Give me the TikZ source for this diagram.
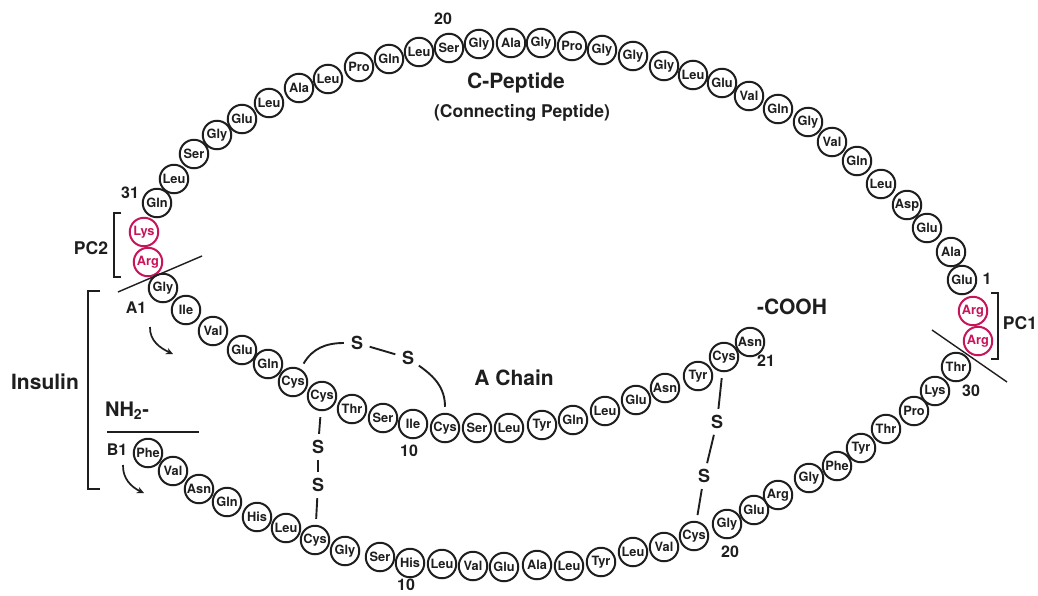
\documentclass[tikz,border=0pt]{standalone}
\usepackage{fontspec}
\setmainfont{TeX Gyre Heros}
\usetikzlibrary{arrows.meta}
\definecolor{pcred}{RGB}{200,20,90}
\definecolor{ink}{RGB}{30,30,30}
\begin{document}
\begin{tikzpicture}[x=1pt,y=1pt,
  res/.style={circle, draw=ink, line width=2pt, minimum size=28.5pt, inner sep=0pt, outer sep=7pt,
    font=\bfseries\fontsize{12.8}{12.8}\selectfont, text=ink},
  pcres/.style={res, draw=pcred, text=pcred},
  sulf/.style={circle, inner sep=0pt, minimum size=26pt, font=\bfseries\fontsize{18}{18}\selectfont, text=ink},
  bond/.style={line width=1.9pt, draw=ink},
  num/.style={font=\bfseries\fontsize{16}{16}\selectfont, text=ink, inner sep=0pt},
  big/.style={font=\bfseries\fontsize{21}{21}\selectfont, text=ink, inner sep=0pt},
  mid/.style={font=\bfseries\fontsize{17.5}{17.5}\selectfont, text=ink, inner sep=0pt},
  brk/.style={line width=1.9pt, draw=ink},
  cut/.style={line width=1.4pt, draw=ink},
  turn/.style={line width=1.7pt, draw=ink, -{Stealth[length=7pt,width=6.5pt]}}
]
\useasboundingbox (0,-595) rectangle (1038,0);

% ---------------- C-peptide ----------------
\node[res] (c1) at (962,-280) {Glu};
\node[res] (c2) at (951,-252) {Ala};
\node[res] (c3) at (927,-228) {Glu};
\node[res] (c4) at (907,-205) {Asp};
\node[res] (c5) at (881,-184) {Leu};
\node[res] (c6) at (857,-161) {Gln};
\node[res] (c7) at (832,-142) {Val};
\node[res] (c8) at (808,-122) {Gly};
\node[res] (c9) at (778,-109) {Gln};
\node[res] (c10) at (749,-96) {Val};
\node[res] (c11) at (722,-83) {Glu};
\node[res] (c12) at (693,-75) {Leu};
\node[res] (c13) at (664,-66) {Gly};
\node[res] (c14) at (633,-56) {Gly};
\node[res] (c15) at (602,-50) {Gly};
\node[res] (c16) at (572,-46) {Pro};
\node[res] (c17) at (541,-43) {Gly};
\node[res] (c18) at (511,-43) {Ala};
\node[res] (c19) at (479,-44) {Gly};
\node[res] (c20) at (449,-48) {Ser};
\node[res] (c21) at (419,-52) {Leu};
\node[res] (c22) at (389,-59) {Gln};
\node[res] (c23) at (359,-67) {Pro};
\node[res] (c24) at (328,-79) {Leu};
\node[res] (c25) at (299,-88) {Ala};
\node[res] (c26) at (269,-103) {Leu};
\node[res] (c27) at (242,-119) {Glu};
\node[res] (c28) at (217,-135) {Gly};
\node[res] (c29) at (194,-154) {Ser};
\node[res] (c30) at (174,-179) {Leu};
\node[res] (c31) at (157,-203) {Gln};

% ---------------- cleavage residues ----------------
\node[pcres] (pk) at (144,-232) {Lys};
\node[pcres] (pr2) at (148,-262) {Arg};
\node[pcres] (pr1a) at (973,-311) {Arg};
\node[pcres] (pr1b) at (978,-341) {Arg};

% ---------------- A chain ----------------
\node[res] (a1) at (163,-288) {Gly};
\node[res] (a2) at (186,-310) {Ile};
\node[res] (a3) at (213,-331) {Val};
\node[res] (a4) at (242,-350) {Glu};
\node[res] (a5) at (268,-364) {Gln};
\node[res] (a6) at (293,-382) {Cys};
\node[res] (a7) at (322,-396) {Cys};
\node[res] (a8) at (352,-409) {Thr};
\node[res] (a9) at (383,-418) {Ser};
\node[res] (a10) at (413,-424) {Ile};
\node[res] (a11) at (445,-428) {Cys};
\node[res] (a12) at (477,-428) {Ser};
\node[res] (a13) at (509,-428) {Leu};
\node[res] (a14) at (542,-425) {Tyr};
\node[res] (a15) at (573,-420) {Gln};
\node[res] (a16) at (605,-411) {Leu};
\node[res] (a17) at (636,-400) {Glu};
\node[res] (a18) at (665,-388) {Asn};
\node[res] (a19) at (698,-376) {Tyr};
\node[res] (a20) at (724,-357) {Cys};
\node[res] (a21) at (750,-342) {Asn};

% ---------------- B chain ----------------
\node[res] (b1) at (148,-453) {Phe};
\node[res] (b2) at (173,-471) {Val};
\node[res] (b3) at (199,-489) {Asn};
\node[res] (b4) at (227,-502) {Gln};
\node[res] (b5) at (257,-517) {His};
\node[res] (b6) at (286,-528) {Leu};
\node[res] (b7) at (315,-540) {Cys};
\node[res] (b8) at (345,-551) {Gly};
\node[res] (b9) at (380,-557) {Ser};
\node[res] (b10) at (410,-563) {His};
\node[res] (b11) at (442,-564) {Leu};
\node[res] (b12) at (473,-566) {Val};
\node[res] (b13) at (504,-567) {Glu};
\node[res] (b14) at (537,-565) {Ala};
\node[res] (b15) at (569,-566) {Leu};
\node[res] (b16) at (601,-562) {Tyr};
\node[res] (b17) at (633,-552) {Leu};
\node[res] (b18) at (664,-547) {Val};
\node[res] (b19) at (694,-536) {Cys};
\node[res] (b20) at (727,-524) {Gly};
\node[res] (b21) at (754,-510) {Glu};
\node[res] (b22) at (778,-495) {Arg};
\node[res] (b23) at (809,-478) {Gly};
\node[res] (b24) at (837,-466) {Phe};
\node[res] (b25) at (861,-448) {Tyr};
\node[res] (b26) at (886,-429) {Thr};
\node[res] (b27) at (914,-411) {Pro};
\node[res] (b28) at (935,-391) {Lys};
\node[res] (b29) at (956,-367) {Thr};

% ---------------- disulfide bonds ----------------
\node[sulf] (s1) at (357,-343) {S};
\node[sulf] (s2) at (408,-358) {S};
\draw[bond] (s1) to[out=180,in=60] (a6);
\draw[bond] (s1) -- (s2);
\draw[bond] (s2) to[out=-35,in=90] (a11);

\node[sulf] (s3) at (717,-422) {S};
\node[sulf] (s4) at (704,-476) {S};
\draw[bond] (a20) -- (s3);
\draw[bond] (s3) -- (s4);
\draw[bond] (s4) -- (b19);

\node[sulf] (s5) at (318,-447) {S};
\node[sulf] (s6) at (318,-485) {S};
\draw[bond] (a7) -- (s5);
\draw[bond] (s5) -- (s6);
\draw[bond] (s6) -- (b7);

% ---------------- labels ----------------
\node[big] (lcp) at (516,-83) {C-Peptide};
\node[mid] (lcon) at (522,-113) {(Connecting Peptide)};
\node[big] (lach) at (514,-378) {A Chain};
\node[big] (lcooh) at (792,-307) {-COOH};
\node[big] (lins) at (45,-382) {Insulin};
\node[mid] (lpc2) at (91,-248) {PC2};
\node[mid] (lpc1) at (1020,-323) {PC1};
\node[font=\bfseries\fontsize{20}{20}\selectfont, text=ink, inner sep=0pt] (lnh) at (127,-411) {NH\textsubscript{2}-};
\node[num] (la1) at (136,-308) {A1};
\node[num] (lb1) at (117,-450) {B1};
\node[num] (n20c) at (443,-19) {20};
\node[num] (n31) at (130,-193) {31};
\node[num] (n1) at (987,-279) {1};
\node[num] (n30) at (971,-391) {30};
\node[num] (n21) at (766,-361) {21};
\node[num] (n10a) at (409,-451) {10};
\node[num] (n20b) at (730,-552) {20};
\node[num] (n10b) at (406,-585) {10};

% ---------------- brackets and cut lines ----------------
\draw[brk] (121,-213) -- (114,-213) -- (114,-277) -- (121,-277);
\draw[brk] (991,-293) -- (998,-293) -- (998,-359) -- (991,-359);
\draw[brk] (100,-291) -- (88,-291) -- (88,-489) -- (100,-489);
\draw[brk] (107,-432) -- (199,-432);
\coordinate (cutA) at (118,-292);
\coordinate (cutB) at (202,-256);
\coordinate (cutC) at (932,-330);
\coordinate (cutD) at (1007,-382);
\draw[cut] (cutA) -- (cutB);
\draw[cut] (cutC) -- (cutD);

% ---------------- direction arrows ----------------
\coordinate (ta1) at (150,-327);
\coordinate (ta2) at (173,-354);
\coordinate (tb1) at (123,-465);
\coordinate (tb2) at (144,-493);
\draw[turn] (ta1) to[out=-92,in=155] (ta2);
\draw[turn] (tb1) to[out=-92,in=155] (tb2);
\end{tikzpicture}
\end{document}
